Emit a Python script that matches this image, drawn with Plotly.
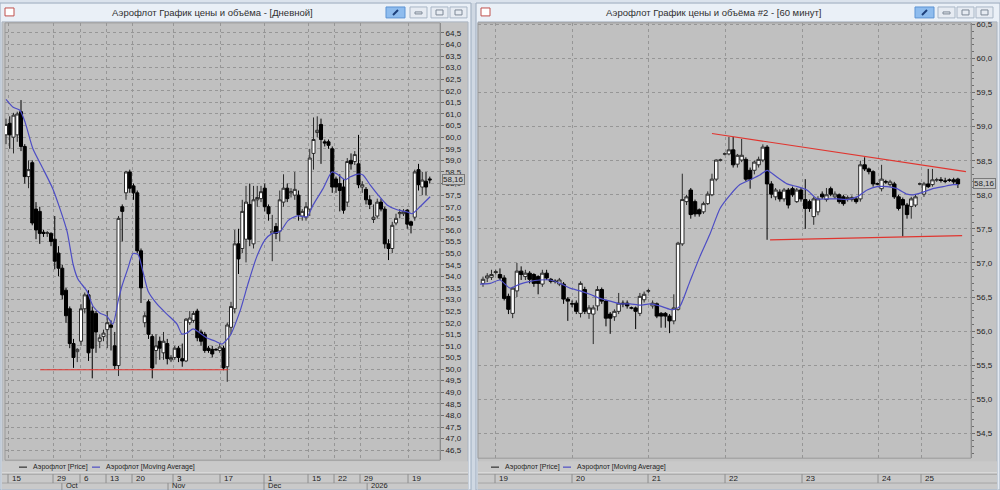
import plotly.graph_objects as go

# ---------------- DATA ----------------
# Left window: daily candles (Aeroflot), index = trading-day number
d_open = [60.10, 60.60, 60.00, 60.10, 61.10, 59.60, 58.30, 58.90, 56.90, 56.80,
          55.90, 55.85, 55.85, 55.60, 55.00, 54.35, 53.40, 52.60, 51.10, 50.75,
          51.20, 52.60, 53.20, 52.50, 52.40, 51.20, 51.40, 51.70, 51.90, 51.00,
          50.15, 57.00, 57.60, 58.50, 57.90, 57.60, 55.10, 52.00, 52.90, 51.40,
          50.80, 51.20, 50.70, 51.10, 50.40, 50.50, 50.90, 50.45, 50.35, 52.00,
          52.10, 52.50, 51.60, 51.50, 50.90, 50.85, 50.85, 50.80, 50.90, 50.10,
          51.80, 52.60, 55.40, 55.20, 55.60, 57.10, 55.40, 57.30, 57.35, 57.80,
          57.00, 55.85, 56.15, 55.95, 57.20, 57.80, 57.60, 57.50, 57.50, 56.60,
          56.55, 56.90, 59.30, 60.20, 60.55, 59.80, 59.80, 59.50, 58.20, 58.00,
          57.85, 57.20, 59.00, 58.95, 58.85, 57.85, 57.75, 57.30, 56.45, 56.60,
          57.20, 56.90, 55.40, 55.20, 56.30, 56.70, 56.70, 56.85, 56.35, 56.55,
          58.60, 57.85, 58.10, 58.20]
d_high = [60.80, 60.90, 61.05, 61.10, 61.60, 59.70, 59.00, 59.00, 57.20, 57.00,
          56.00, 55.95, 55.90, 56.60, 55.30, 54.50, 53.50, 52.70, 51.30, 50.90,
          52.80, 53.30, 53.40, 52.70, 52.50, 51.50, 51.70, 52.50, 52.10, 51.60,
          56.60, 57.10, 58.55, 58.60, 58.00, 57.70, 55.20, 52.45, 53.00, 51.50,
          51.50, 51.40, 51.60, 51.30, 50.60, 51.00, 51.00, 51.10, 52.20, 52.50,
          52.50, 52.60, 51.70, 51.60, 51.00, 51.00, 50.90, 51.10, 51.00, 52.00,
          52.90, 56.00, 56.05, 57.30, 57.90, 58.00, 57.90, 57.90, 57.90, 58.00,
          57.10, 56.65, 56.30, 57.70, 58.40, 58.00, 57.80, 58.50, 57.70, 56.90,
          57.20, 59.50, 60.85, 60.90, 60.80, 59.90, 59.90, 59.60, 58.30, 58.40,
          58.20, 59.10, 59.30, 59.40, 60.10, 58.10, 57.85, 57.50, 57.10, 57.35,
          57.35, 57.00, 55.60, 56.35, 56.70, 56.90, 56.90, 56.90, 56.40, 58.60,
          58.85, 58.50, 58.50, 58.30]
d_low = [59.70, 59.50, 59.30, 59.80, 59.40, 58.00, 57.80, 56.20, 55.60, 55.40,
         55.70, 55.70, 55.30, 54.30, 54.00, 53.00, 52.00, 50.90, 50.05, 50.30,
         51.00, 52.40, 50.35, 49.60, 50.70, 50.90, 51.20, 50.90, 50.80, 50.00,
         49.70, 55.50, 57.30, 57.60, 57.30, 55.00, 52.85, 51.80, 51.30, 49.60,
         50.20, 50.40, 50.40, 50.20, 50.30, 50.40, 50.30, 50.10, 50.30, 51.90,
         52.00, 51.20, 51.00, 50.70, 50.70, 50.50, 50.80, 50.70, 49.95, 49.45,
         51.50, 52.40, 54.10, 55.00, 54.60, 55.30, 55.20, 57.00, 57.20, 56.80,
         56.40, 54.65, 55.60, 55.50, 57.00, 57.20, 57.40, 57.30, 56.40, 56.40,
         56.40, 56.60, 58.60, 60.00, 58.85, 59.60, 59.50, 57.60, 57.60, 56.80,
         56.70, 57.00, 58.60, 58.80, 57.80, 57.60, 57.10, 56.90, 56.30, 56.50,
         56.80, 55.20, 54.70, 55.00, 56.20, 56.50, 56.60, 56.05, 55.85, 56.40,
         57.70, 57.50, 57.50, 58.00]
d_close = [60.55, 60.10, 60.95, 61.00, 59.60, 58.30, 58.60, 56.30, 56.00, 55.85,
           55.85, 55.88, 55.50, 54.65, 54.35, 53.20, 52.30, 51.10, 50.50, 50.85,
           52.60, 53.20, 50.70, 50.90, 51.60, 51.35, 51.55, 52.00, 51.80, 50.15,
           56.50, 56.80, 58.50, 57.80, 57.60, 55.10, 53.50, 52.30, 51.50, 50.05,
           51.00, 50.90, 51.20, 50.45, 50.50, 50.90, 50.50, 50.35, 52.15, 52.20,
           52.40, 51.35, 51.20, 50.80, 50.80, 50.65, 50.83, 50.95, 50.05, 51.90,
           52.70, 55.40, 54.75, 56.80, 57.20, 55.60, 57.30, 57.40, 57.65, 57.00,
           56.70, 55.95, 55.85, 57.30, 57.80, 57.35, 57.65, 57.75, 56.65, 56.80,
           57.00, 59.10, 59.90, 60.30, 59.90, 59.75, 59.65, 57.85, 57.85, 57.70,
           56.85, 58.95, 58.85, 59.25, 57.95, 57.95, 57.30, 57.10, 56.55, 57.20,
           56.90, 55.40, 55.20, 56.20, 56.50, 56.75, 56.80, 56.25, 56.20, 58.50,
           57.95, 58.15, 57.85, 58.16]
# moving average (candle index, value)
d_ma_idx = [0, 1.9, 3.7, 5.1, 7.2, 9.9, 12.5, 14.4, 16.3, 17.9, 19.2, 21.6, 23.2,
            25.1, 26.9, 28.5, 29.9, 30.9, 32.5, 33.9, 35.2, 36.5, 37.9, 40.3,
            42.9, 45.6, 46.9, 48.3, 49.9, 51.7, 53.6, 55.7, 57.6, 59.7, 62.4,
            64.5, 66.9, 69.1, 70.9, 73.1, 75.2, 77.6, 80.3, 81.9, 84.5, 86.9,
            88.3, 90.4, 91.7, 93.9, 95.2, 97.1, 99.2, 101.6, 104.3, 106.9, 108.3,
            110.4, 113.1]
d_ma_val = [61.63, 61.29, 61.16, 60.64, 59.49, 58.63, 57.77, 56.91, 55.93, 54.51,
            53.87, 53.36, 52.71, 52.41, 52.28, 51.94, 52.93, 53.57, 54.34, 54.98,
            54.94, 54.21, 53.36, 52.80, 52.37, 51.94, 51.51, 51.56, 51.73, 51.56,
            51.34, 51.21, 51.08, 51.43, 52.50, 53.66, 54.86, 55.58, 55.84, 55.93,
            56.40, 56.61, 56.57, 57.08, 57.77, 58.50, 58.41, 58.16, 58.28, 58.41,
            58.37, 57.94, 57.51, 57.08, 56.87, 56.78, 56.70, 57.00, 57.43]
d_support_idx = [9.1, 59.2]
d_support_val = [49.97, 49.97]
d_day_pos = [0.53, 12.53, 19.73, 26.67, 33.6, 44.53, 57.07, 68.8, 80.53, 87.47, 94.4, 107.2]
d_day_txt = ['15', '29', '6', '13', '20', '3', '17', '1', '15', '22', '29', '19']
d_mon_pos = [14.9, 43.2, 68.8, 96.3]
d_mon_txt = ['Oct', 'Nov', 'Dec', '2026']

# Right window: 60-minute candles
h_open = [56.70, 56.78, 56.79, 56.86, 56.83, 56.78, 56.51, 56.26, 56.59, 56.88,
          56.80, 56.85, 56.83, 56.80, 56.69, 56.85, 56.76, 56.73, 56.69, 56.69,
          56.47, 56.40, 56.41, 56.26, 56.61, 56.26, 56.25, 56.37, 56.61, 56.44,
          56.25, 56.21, 56.29, 56.41, 56.41, 56.34, 56.34, 56.26, 56.46, 56.59,
          56.37, 56.40, 56.26, 56.26, 56.22, 56.15, 56.32, 57.28, 57.90, 58.07,
          57.90, 57.78, 57.75, 57.87, 58.00, 58.23, 58.51, 58.60, 58.60, 58.66,
          58.45, 58.51, 58.52, 58.36, 58.36, 58.44, 58.51, 58.70, 58.16, 57.97,
          58.04, 57.94, 58.07, 58.09, 57.90, 58.07, 57.93, 57.90, 57.68, 57.75,
          58.01, 57.93, 58.09, 57.97, 58.00, 57.97, 57.93, 57.93, 57.94, 57.94,
          58.44, 58.38, 58.34, 58.16, 58.09, 58.19, 58.15, 58.16, 57.97, 57.93,
          57.85, 57.83, 57.85, 58.16, 58.01, 58.16, 58.15, 58.22, 58.22, 58.20,
          58.22, 58.22, 58.23]
h_high = [56.80, 56.85, 56.90, 56.90, 56.92, 56.82, 56.55, 56.65, 57.00, 56.95,
          56.90, 56.88, 56.85, 56.82, 56.90, 56.90, 56.78, 56.76, 56.78, 56.72,
          56.50, 56.45, 56.45, 56.73, 56.65, 56.38, 56.38, 56.66, 56.64, 56.46,
          56.28, 56.32, 56.56, 56.45, 56.45, 56.36, 56.36, 56.56, 56.58, 56.62,
          56.45, 56.42, 56.28, 56.28, 56.25, 56.54, 57.31, 58.31, 58.00, 58.10,
          57.93, 57.80, 57.90, 58.05, 58.31, 58.52, 58.53, 58.62, 58.85, 58.85,
          58.60, 58.82, 58.55, 58.40, 58.50, 58.56, 58.74, 58.73, 58.20, 58.10,
          58.08, 58.10, 58.10, 58.12, 58.10, 58.10, 58.23, 57.93, 57.97, 57.98,
          58.05, 58.10, 58.12, 58.05, 58.02, 58.00, 57.99, 57.99, 57.97, 58.50,
          58.55, 58.40, 58.36, 58.18, 58.44, 58.22, 58.22, 58.19, 58.00, 57.96,
          57.88, 57.97, 58.00, 58.18, 58.19, 58.38, 58.38, 58.25, 58.26, 58.25,
          58.24, 58.25, 58.25]
h_low = [56.65, 56.72, 56.75, 56.83, 56.75, 56.45, 56.25, 56.19, 56.50, 56.75,
         56.75, 56.70, 56.65, 56.54, 56.65, 56.75, 56.70, 56.70, 56.66, 56.40,
         56.15, 56.35, 56.25, 56.20, 56.25, 56.18, 55.81, 56.30, 56.40, 56.07,
         55.96, 56.15, 56.25, 56.35, 56.33, 56.32, 56.03, 56.22, 56.42, 56.56,
         56.33, 56.19, 56.05, 56.05, 55.97, 56.10, 56.30, 57.25, 57.85, 57.65,
         57.68, 57.68, 57.72, 57.85, 57.98, 58.20, 58.49, 58.58, 58.58, 58.40,
         58.40, 58.48, 58.20, 58.09, 58.30, 58.40, 58.48, 57.34, 57.95, 57.92,
         57.90, 57.90, 57.80, 57.97, 57.88, 57.90, 57.50, 57.75, 57.56, 57.70,
         57.94, 57.90, 57.98, 57.94, 57.87, 57.84, 57.90, 57.90, 57.87, 57.90,
         58.35, 58.30, 58.12, 58.14, 58.05, 58.16, 58.12, 57.94, 57.77, 57.39,
         57.65, 57.65, 57.82, 58.14, 57.97, 58.10, 58.12, 58.19, 58.18, 58.17,
         58.19, 58.16, 58.10]
h_close = [56.76, 56.81, 56.83, 56.87, 56.78, 56.48, 56.32, 56.63, 56.88, 56.83,
           56.85, 56.76, 56.70, 56.70, 56.85, 56.78, 56.73, 56.73, 56.75, 56.47,
           56.44, 56.40, 56.29, 56.70, 56.29, 56.34, 56.34, 56.61, 56.44, 56.19,
           56.19, 56.29, 56.41, 56.40, 56.37, 56.34, 56.29, 56.51, 56.54, 56.59,
           56.41, 56.22, 56.22, 56.22, 56.15, 56.34, 57.29, 57.93, 57.97, 57.71,
           57.72, 57.72, 57.87, 58.01, 58.23, 58.51, 58.51, 58.60, 58.66, 58.44,
           58.58, 58.58, 58.23, 58.23, 58.48, 58.52, 58.70, 58.16, 58.01, 58.07,
           57.94, 58.07, 57.85, 58.00, 58.07, 57.94, 57.80, 57.80, 57.94, 57.94,
           57.97, 58.00, 58.01, 58.01, 57.90, 57.87, 57.96, 57.96, 57.90, 58.44,
           58.38, 58.34, 58.16, 58.16, 58.23, 58.19, 58.19, 57.97, 57.80, 57.85,
           57.71, 57.94, 57.97, 58.16, 58.16, 58.12, 58.22, 58.22, 58.21, 58.20,
           58.21, 58.19, 58.16]
h_ma_idx = [-0.7, 1.7, 4.0, 6.4, 8.7, 11.1, 13.4, 15.8, 18.2, 20.5, 22.9, 25.2,
            27.6, 30.0, 32.3, 34.7, 37.0, 39.4, 41.7, 44.1, 45.3, 46.5, 48.8,
            51.2, 53.5, 55.9, 58.3, 60.6, 63.0, 65.3, 67.0, 69.3, 71.7, 74.1,
            76.4, 78.8, 81.1, 83.5, 85.8, 88.2, 90.6, 92.9, 95.3, 97.6, 100.0,
            101.4, 103.8, 106.1, 108.5, 110.8, 112.0]
h_ma_val = [56.69, 56.70, 56.75, 56.63, 56.69, 56.73, 56.75, 56.75, 56.70, 56.63,
            56.59, 56.54, 56.48, 56.44, 56.40, 56.40, 56.38, 56.40, 56.37, 56.32,
            56.32, 56.37, 56.73, 57.10, 57.42, 57.80, 58.00, 58.15, 58.22, 58.29,
            58.36, 58.26, 58.16, 58.12, 58.07, 57.94, 57.94, 57.94, 57.93, 57.97,
            58.07, 58.12, 58.12, 58.09, 58.01, 58.00, 58.04, 58.09, 58.12, 58.15,
            58.15]
h_resist_idx = [54.0, 113.9]
h_resist_val = [58.90, 58.34]
h_support_idx = [67.7, 113.0]
h_support_val = [57.34, 57.40]
h_day_pos = [2.83, 20.99, 38.92, 57.08, 75.24, 93.16, 103.3]
h_day_txt = ['19', '20', '21', '22', '23', '24', '25']

series_names = ['Аэрофлот [Price]', 'Аэрофлот [Moving Average]']
titles = ['Аэрофлот График цены и объёма - [Дневной]',
          'Аэрофлот График цены и объёма #2 - [60 минут]']

# ---------------- STYLE / LAYOUT ----------------
W, H = 1000, 490
def fx(px): return px / W
def fy(py): return 1 - py / H

PLOT_BG = '#c0c0c0'
GRID = '#969696'
MA_COL = '#4d4dc4'
RED = '#e0352f'
TXT = '#1e1e1e'
SMALL = 'Liberation Sans, Arial'
TITLE_FONT = 'Liberation Sans, Arial'

fig = go.Figure()

def candles(o, h, l, c, xa, ya):
    return go.Candlestick(
        x=list(range(len(o))), open=o, high=h, low=l, close=c,
        increasing=dict(line=dict(color='#2b2b2b', width=1), fillcolor='#ffffff'),
        decreasing=dict(line=dict(color='#000000', width=1), fillcolor='#000000'),
        whiskerwidth=0, hoverinfo='skip', showlegend=False, xaxis=xa, yaxis=ya)

fig.add_trace(candles(d_open, d_high, d_low, d_close, 'x', 'y'))
fig.add_trace(go.Scatter(x=d_ma_idx, y=d_ma_val, mode='lines', xaxis='x', yaxis='y',
                         line=dict(color=MA_COL, width=1.2, shape='spline', smoothing=0.6),
                         showlegend=False, hoverinfo='skip'))
fig.add_trace(go.Scatter(x=d_support_idx, y=d_support_val, mode='lines', xaxis='x', yaxis='y',
                         line=dict(color=RED, width=1.2), showlegend=False, hoverinfo='skip'))

fig.add_trace(candles(h_open, h_high, h_low, h_close, 'x2', 'y2'))
fig.add_trace(go.Scatter(x=h_ma_idx, y=h_ma_val, mode='lines', xaxis='x2', yaxis='y2',
                         line=dict(color=MA_COL, width=1.2, shape='spline', smoothing=0.6),
                         showlegend=False, hoverinfo='skip'))
fig.add_trace(go.Scatter(x=h_resist_idx, y=h_resist_val, mode='lines', xaxis='x2', yaxis='y2',
                         line=dict(color=RED, width=1.2), showlegend=False, hoverinfo='skip'))
fig.add_trace(go.Scatter(x=h_support_idx, y=h_support_val, mode='lines', xaxis='x2', yaxis='y2',
                         line=dict(color=RED, width=1.2), showlegend=False, hoverinfo='skip'))

xcommon = dict(showgrid=True, gridcolor=GRID, griddash='dot', gridwidth=1,
               showticklabels=False, ticks='', zeroline=False, showline=False,
               rangeslider=dict(visible=False), fixedrange=True)
ycommon = dict(side='right', showgrid=True, gridcolor=GRID, griddash='dot', gridwidth=1,
               dtick=0.5, tickformat='.1f', ticks='outside', ticklen=3, tickcolor='#6e6e6e',
               showline=True, linecolor='#8c8c8c', linewidth=1, zeroline=False,
               tickfont=dict(family=SMALL, size=8, color=TXT), fixedrange=True)

fig.update_layout(
    width=W, height=H, margin=dict(l=0, r=0, t=0, b=0),
    paper_bgcolor='#dbe3ed', plot_bgcolor=PLOT_BG,
    separators=', ', boxgap=0.15, boxgroupgap=0.05,
    xaxis=dict(domain=[fx(5), fx(440)], range=[-0.27, 115.73], tickvals=d_day_pos,
               anchor='y', **xcommon),
    yaxis=dict(domain=[fy(460), fy(20)], range=[46.07, 64.93], tick0=46.5,
               anchor='x', **ycommon),
    xaxis2=dict(domain=[fx(478), fx(971)], range=[-1.18, 115.09], tickvals=h_day_pos,
                anchor='y2', **xcommon),
    yaxis2=dict(domain=[fy(458), fy(20)], range=[54.135, 60.523], tick0=54.5,
                anchor='x2',
                minor=dict(dtick=0.1, ticks='outside', ticklen=2, tickcolor='#6e6e6e',
                           showgrid=False),
                **ycommon),
    showlegend=False,
)

shapes = []
ann = []

def rect(x0, y0, x1, y1, fill, line=None, lw=1, layer='below'):
    shapes.append(dict(type='rect', xref='paper', yref='paper', x0=fx(x0), x1=fx(x1),
                       y0=fy(y1), y1=fy(y0), fillcolor=fill, layer=layer,
                       line=dict(color=line or fill, width=lw if line else 0)))

def hline(x0, x1, y, color, w=1, layer='above'):
    shapes.append(dict(type='line', xref='paper', yref='paper', x0=fx(x0), x1=fx(x1),
                       y0=fy(y), y1=fy(y), line=dict(color=color, width=w), layer=layer))

def text(x, y, s, size=9, color=TXT, anchor='left', family=SMALL):
    ann.append(dict(x=fx(x), y=fy(y), xref='paper', yref='paper', text=s, showarrow=False,
                    xanchor=anchor, yanchor='middle',
                    font=dict(family=family, size=size, color=color)))

# window chrome for both panels
windows = [dict(x0=0, x1=471, plot=(5, 440, 20, 460), pin=386, btn=[410, 431, 450], bw=17,
                title_x=212, leg=(19, 92), day_pos=d_day_pos, day_txt=d_day_txt,
                xa='x', ya='y', close=d_close),
           dict(x0=476, x1=1000, plot=(478, 971, 20, 458), pin=915, btn=[938, 957, 976], bw=17,
                title_x=713, leg=(491, 563), day_pos=h_day_pos, day_txt=h_day_txt,
                xa='x2', ya='y2', close=h_close)]

rect(471, 0, 476, 490, '#cfd8e3')
for k, wdw in enumerate(windows):
    x0, x1 = wdw['x0'], wdw['x1']
    rect(x0, 0, x1, 490, '#e3e9f1', line='#9eadbf')
    rect(x0 + 1, 1, x1 - 1, 19, '#eaf0f7')
    rect(x0 + 2, 19, x1 - 3, 489, '#c3c3c3', line='#aab4c0')
    rect(x0 + 2, 461, x1 - 3, 489, '#c9c9c9')
    px0, px1, py0, py1 = wdw['plot']
    rect(px0, py0, px1, py1, PLOT_BG, line='#9a9a9a')
    hline(x0 + 2, x1 - 3, 473, '#efefef')
    hline(x0 + 2, x1 - 3, 474, '#9a9a9a')
    hline(x0 + 2, x1 - 3, 483, '#a6a6a6')
    # window icon + title
    rect(x0 + 5, 5, x0 + 14, 13, '#ffffff', line='#c0504d', layer='above')
    text(wdw['title_x'], 10, titles[k], size=9.5, color='#2f2f2f', anchor='center',
         family=TITLE_FONT)
    # title buttons
    p = wdw['pin']
    rect(p, 4, p + 19, 15, '#8ebcee', line='#5d93d3', layer='above')
    shapes.append(dict(type='line', xref='paper', yref='paper', x0=fx(p + 7), x1=fx(p + 12),
                       y0=fy(12), y1=fy(7), line=dict(color='#1d3f7a', width=2)))
    for b in wdw['btn']:
        rect(b, 4, b + wdw['bw'], 15, '#e6ebf2', line='#a9b6c6', layer='above')
    b1, b2, b3 = wdw['btn']
    rect(b1 + 5, 9, b1 + 12, 11, '#e6ebf2', line='#7d8896', layer='above')
    rect(b2 + 5, 7, b2 + 12, 12, '#e6ebf2', line='#7d8896', layer='above')
    rect(b3 + 5, 7, b3 + 12, 12, '#e6ebf2', line='#7d8896', layer='above')
    # legend strip
    lx, mx = wdw['leg']
    hline(lx, lx + 8, 467, '#303030', w=1.2)
    text(lx + 12, 467, series_names[0], size=7)
    hline(mx, mx + 8, 467, MA_COL, w=1.2)
    text(mx + 12, 467, series_names[1], size=7)
    # date row
    for pos, lab in zip(wdw['day_pos'], wdw['day_txt']):
        shapes.append(dict(type='line', xref=wdw['xa'], yref='paper', x0=pos, x1=pos,
                           y0=fy(483), y1=fy(474), line=dict(color='#8e8e8e', width=1)))
        ann.append(dict(x=pos, y=fy(478.5), xref=wdw['xa'], yref='paper', text=lab,
                        showarrow=False, xanchor='left', yanchor='middle', xshift=2,
                        font=dict(family=SMALL, size=8, color=TXT)))
    # last price tag
    last = wdw['close'][-1]
    ann.append(dict(x=fx(px1 + 2), y=last, xref='paper', yref=wdw['ya'],
                    text=f'{last:.2f}'.replace('.', ','), showarrow=False,
                    xanchor='left', yanchor='middle', bgcolor='#c6c6c6',
                    bordercolor='#7a7a7a', borderwidth=1, borderpad=0,
                    font=dict(family=SMALL, size=8, color=TXT)))

# month row (daily window only)
for pos, lab in zip(d_mon_pos, d_mon_txt):
    shapes.append(dict(type='line', xref='x', yref='paper', x0=pos, x1=pos,
                       y0=fy(490), y1=fy(483), line=dict(color='#8e8e8e', width=1)))
    ann.append(dict(x=pos, y=fy(485), xref='x', yref='paper', text=lab, showarrow=False,
                    xanchor='left', yanchor='middle', xshift=2,
                    font=dict(family=SMALL, size=7.5, color=TXT)))

fig.update_layout(shapes=shapes, annotations=ann)
fig.write_html('out.html', config={'displayModeBar': False},
               post_script="document.body.style.margin='0';"
                           "document.body.style.overflow='hidden';")
